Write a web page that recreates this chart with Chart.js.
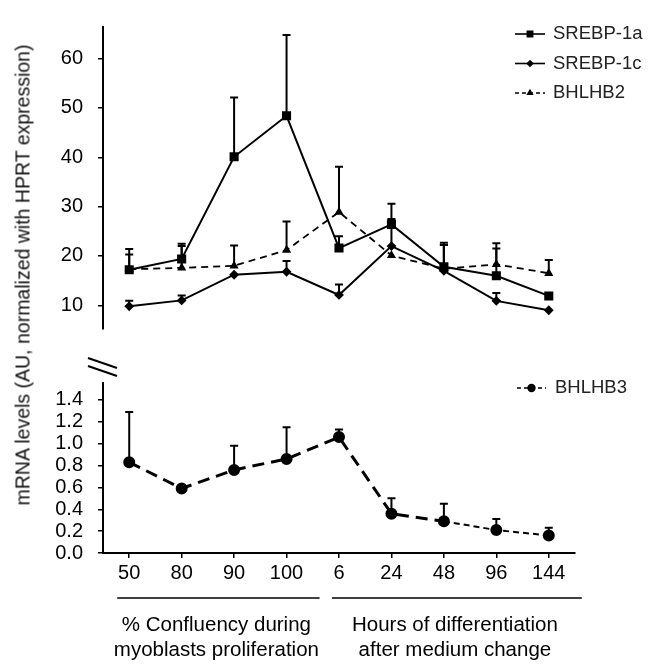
<!DOCTYPE html>
<html>
<head>
<meta charset="utf-8">
<script src="https://cdn.jsdelivr.net/npm/chart.js@4.4.1/dist/chart.umd.min.js"></script>
<style>
  body { margin: 0; background: #fff; }
  #wrap { position: relative; width: 659px; height: 668px; font-family: "Liberation Sans", Arial, sans-serif; }
  #topChart { position: absolute; left: 0; top: 0; }
  #bottomChart { position: absolute; left: 0; top: 356px; }
  #ytitle {
    position: absolute; left: 23px; top: 275px;
    transform: translate(-50%, -50%) rotate(-90deg);
    white-space: nowrap; font-size: 19.5px; color: #111;
  }
</style>
</head>
<body>
<div id="wrap">
  <canvas id="topChart" width="659" height="356"></canvas>
  <canvas id="bottomChart" width="659" height="312"></canvas>
  <div id="ytitle">mRNA levels (AU, normalized with HPRT expression)</div>
</div>
<script>
// categories: % confluency, then hours of differentiation
const categories = ["50", "80", "90", "100", "6", "24", "48", "96", "144"];

// top panel
const srebp1a    = [17.2, 19.4, 40.1, 48.4, 21.6, 26.4, 17.8, 16.0, 11.9];
const srebp1aErr = [21.4, 22.5, 52.1, 64.8, 24.0, 30.6, 22.7, 21.5, null];
const srebp1c    = [9.8, 11.0, 16.2, 16.8, 12.1, 22.0, 17.0, 10.9, 9.0];
const srebp1cErr = [10.9, 12.0, null, 19.0, 14.2, 27.5, 22.2, 12.5, null];
const bhlhb2     = [17.3, 17.6, 18.0, 21.2, 28.9, 20.1, 17.4, 18.3, 16.5];
const bhlhb2Err  = [20.3, 22.0, 22.1, 27.0, 38.1, null, 22.2, 22.6, 19.2];

// bottom panel
const bhlhb3     = [0.83, 0.59, 0.76, 0.86, 1.06, 0.36, 0.29, 0.21, 0.16];
const bhlhb3Err  = [1.29, null, 0.98, 1.15, 1.13, 0.50, 0.45, 0.31, 0.23];

const topTicks = [10, 20, 30, 40, 50, 60];
const bottomTicks = [0, 0.2, 0.4, 0.6, 0.8, 1.0, 1.2, 1.4];
const groupLabels = [
  ["% Confluency during", "myoblasts proliferation"],
  ["Hours of differentiation", "after medium change"]
];

Chart.defaults.font.family = '"Liberation Sans", Arial, sans-serif';
Chart.defaults.font.size = 20;
Chart.defaults.color = "#000";

// upper error bars with caps
const errorBars = {
  id: "errorBars",
  afterDatasetsDraw(chart) {
    const ctx = chart.ctx, xs = chart.scales.x, ys = chart.scales.y;
    ctx.save();
    ctx.strokeStyle = "#000";
    ctx.lineWidth = 2;
    ctx.setLineDash([]);
    chart.data.datasets.forEach(ds => {
      (ds.errUpper || []).forEach((u, i) => {
        if (u == null) return;
        const px = xs.getPixelForValue(i);
        const p0 = ys.getPixelForValue(ds.data[i]);
        const p1 = ys.getPixelForValue(u);
        ctx.beginPath();
        ctx.moveTo(px, p0); ctx.lineTo(px, p1);
        ctx.moveTo(px - 4, p1); ctx.lineTo(px + 4, p1);
        ctx.stroke();
      });
    });
    ctx.restore();
  }
};

// legend drawn as line + marker samples
const sideLegend = {
  id: "sideLegend",
  afterDraw(chart, args, opts) {
    const ctx = chart.ctx;
    chart.data.datasets.forEach((ds, k) => {
      const y = opts.ys[k];
      ctx.save();
      ctx.strokeStyle = "#000";
      ctx.lineWidth = 1.6;
      ctx.setLineDash(ds.legendDash || []);
      ctx.beginPath();
      ctx.moveTo(opts.x0, y); ctx.lineTo(opts.x1, y);
      ctx.stroke();
      ctx.setLineDash([]);
      ctx.fillStyle = "#000";
      Chart.helpers.drawPoint(ctx, {
        pointStyle: ds.pointStyle, radius: ds.pointRadius * 0.75, rotation: 0, borderWidth: 1
      }, (opts.x0 + opts.x1) / 2, y);
      ctx.font = '18.5px "Liberation Sans", Arial, sans-serif';
      ctx.fillStyle = "#222";
      ctx.textBaseline = "middle";
      ctx.fillText(ds.label, opts.tx, y);
      ctx.restore();
    });
  }
};

// axis break marks and the group labels under the x axis
const decorations = {
  id: "decorations",
  afterDraw(chart) {
    const ctx = chart.ctx, xs = chart.scales.x, left = chart.chartArea.left;
    ctx.save();
    ctx.strokeStyle = "#000";
    ctx.lineWidth = 2;
    ctx.beginPath();
    ctx.moveTo(left - 15, 2); ctx.lineTo(left + 14, 12);
    ctx.moveTo(left - 15, 10); ctx.lineTo(left + 14, 20);
    ctx.stroke();

    ctx.lineWidth = 1.5;
    const spans = [
      [xs.getPixelForValue(0) - 12, xs.getPixelForValue(3) + 33],
      [xs.getPixelForValue(4) - 7, xs.getPixelForValue(8) + 33]
    ];
    ctx.font = '20.5px "Liberation Sans", Arial, sans-serif';
    ctx.fillStyle = "#000";
    ctx.textAlign = "center";
    ctx.textBaseline = "middle";
    spans.forEach((s, g) => {
      ctx.beginPath();
      ctx.moveTo(s[0], 242); ctx.lineTo(s[1], 242);
      ctx.stroke();
      const cx = (s[0] + s[1]) / 2 - 2;
      ctx.fillText(groupLabels[g][0], cx, 269);
      ctx.fillText(groupLabels[g][1], cx, 294);
    });
    ctx.restore();
  }
};

function yAxis(min, max, ticks, fmt) {
  return {
    min: min, max: max,
    afterFit: s => { s.width = 103; },
    afterBuildTicks: s => { s.ticks = ticks.map(v => ({ value: v })); },
    ticks: { padding: 15, autoSkip: false, callback: fmt },
    grid: { drawOnChartArea: false, drawTicks: true, tickLength: 5, color: "#000", lineWidth: 1.5 },
    border: { display: true, color: "#000", width: 2 }
  };
}

new Chart(document.getElementById("topChart").getContext("2d"), {
  type: "line",
  data: {
    labels: categories,
    datasets: [
      {
        label: "SREBP-1a", data: srebp1a, errUpper: srebp1aErr,
        borderColor: "#000", backgroundColor: "#000", borderWidth: 2,
        pointStyle: "rect", pointRadius: 5, tension: 0
      },
      {
        label: "SREBP-1c", data: srebp1c, errUpper: srebp1cErr,
        borderColor: "#000", backgroundColor: "#000", borderWidth: 2,
        pointStyle: "rectRot", pointRadius: 3.5, tension: 0
      },
      {
        label: "BHLHB2", data: bhlhb2, errUpper: bhlhb2Err,
        borderColor: "#000", backgroundColor: "#000", borderWidth: 1.8,
        borderDash: [7, 5], legendDash: [4, 3],
        pointStyle: "triangle", pointRadius: 3.5, tension: 0
      }
    ]
  },
  options: {
    responsive: false,
    animation: false,
    layout: { padding: { top: 5, bottom: 5, left: 0, right: 84 } },
    plugins: {
      legend: { display: false },
      tooltip: { enabled: false },
      sideLegend: { x0: 515, x1: 545, tx: 553, ys: [34, 63.5, 93] }
    },
    scales: {
      x: { display: false, offset: true },
      y: yAxis(5.2, 66.4, topTicks, v => String(v))
    }
  },
  plugins: [errorBars, sideLegend]
});

new Chart(document.getElementById("bottomChart").getContext("2d"), {
  type: "line",
  data: {
    labels: categories,
    datasets: [
      {
        label: "BHLHB3", data: bhlhb3, errUpper: bhlhb3Err,
        borderColor: "#000", backgroundColor: "#000", borderWidth: 3,
        borderDash: [12, 7], legendDash: [4, 3],
        segment: {
          borderDash: c => c.p0DataIndex >= 6 ? [6, 4] : undefined,
          borderWidth: c => c.p0DataIndex >= 6 ? 2 : undefined
        },
        pointStyle: "circle", pointRadius: 4.5, tension: 0
      }
    ]
  },
  options: {
    responsive: false,
    animation: false,
    layout: { padding: { top: 26, bottom: 0, left: 0, right: 84 } },
    plugins: {
      legend: { display: false },
      tooltip: { enabled: false },
      sideLegend: { x0: 517, x1: 546, tx: 555, ys: [32] }
    },
    scales: {
      x: {
        offset: true,
        afterFit: s => { s.height = 115; },
        ticks: { padding: 3, maxRotation: 0, autoSkip: false },
        grid: { drawOnChartArea: false, drawTicks: true, tickLength: 5, color: "#000", lineWidth: 1.5 },
        border: { display: true, color: "#000", width: 2 }
      },
      y: yAxis(0, 1.555, bottomTicks, v => Number(v).toFixed(1))
    }
  },
  plugins: [errorBars, sideLegend, decorations]
});
</script>
</body>
</html>
